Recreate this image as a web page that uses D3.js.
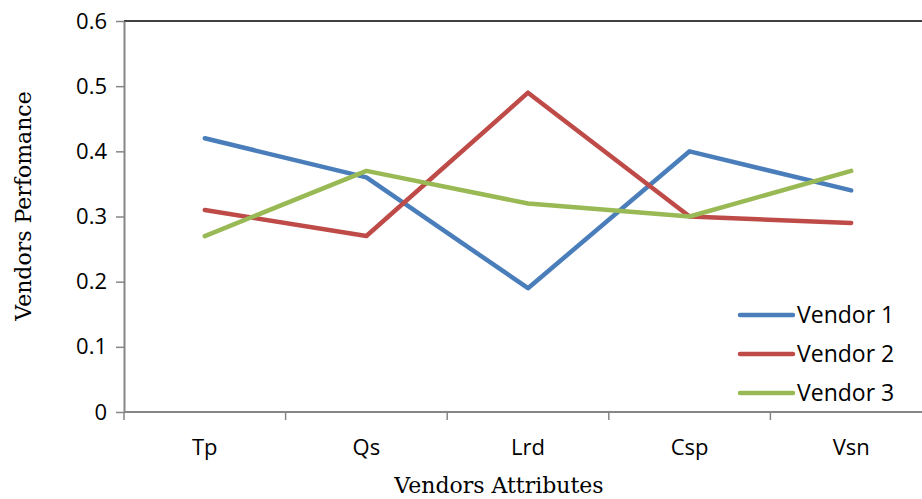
<!DOCTYPE html>
<html>
<head>
<meta charset="utf-8">
<script src="https://cdn.jsdelivr.net/npm/d3@7"></script>
<style>
  body { margin: 0; background: #fff; }
  svg { display: block; }
</style>
</head>
<body>
<svg id="chart"></svg>
<script>
const categories = ['Tp', 'Qs', 'Lrd', 'Csp', 'Vsn'];
const seriesNames = ['Vendor 1', 'Vendor 2', 'Vendor 3'];
const vendor1 = [0.42, 0.36, 0.19, 0.40, 0.34];
const vendor2 = [0.31, 0.27, 0.49, 0.30, 0.29];
const vendor3 = [0.27, 0.37, 0.32, 0.30, 0.37];
const yTicks = [0, 0.1, 0.2, 0.3, 0.4, 0.5, 0.6];
const colors = ['#4a7ebb', '#be4b48', '#98b954'];

const series = [vendor1, vendor2, vendor3].map((vals, i) => ({
  name: seriesNames[i],
  color: colors[i],
  values: vals.map((v, j) => ({cat: categories[j], value: v}))
}));

const width = 922, height = 499;
const margin = {top: 21, left: 124};
const plotW = 808, plotH = 391;
const labelFont = '"Open Sans", Lato, sans-serif';
const titleFont = '"DejaVu Serif", serif';

const svg = d3.select('#chart')
    .attr('width', width)
    .attr('height', height);

const chart = svg.append('g')
    .attr('transform', `translate(${margin.left},${margin.top})`);

const xScale = d3.scaleBand()
    .domain(categories)
    .range([0, plotW]);

const yScale = d3.scaleLinear()
    .domain([0, 0.6])
    .range([plotH, 0]);

// top border line
chart.append('line')
    .attr('x1', 0).attr('x2', width)
    .attr('y1', yScale(0.6)).attr('y2', yScale(0.6))
    .attr('stroke', '#000')
    .attr('stroke-width', 1.5);

// y axis
const yAxisG = chart.append('g')
    .call(d3.axisLeft(yScale).tickValues(yTicks).tickFormat(d => d === 0 ? '0' : d3.format('.1f')(d))
      .tickSize(8).tickSizeOuter(0).tickPadding(9));
yAxisG.select('.domain').attr('stroke', '#868686').attr('stroke-width', 2);
yAxisG.selectAll('.tick line').attr('stroke', '#868686').attr('stroke-width', 1.5);
yAxisG.selectAll('.tick text')
    .style('font-family', labelFont)
    .style('font-size', '22px')
    .attr('fill', '#000');

// x axis with ticks on band boundaries
const boundaries = categories.map(c => xScale(c)).concat([plotW]);
const xAxisG = chart.append('g')
    .attr('transform', `translate(0,${plotH})`);
xAxisG.append('line')
    .attr('x1', 0).attr('x2', plotW)
    .attr('stroke', '#868686').attr('stroke-width', 2);
xAxisG.selectAll('.xtick')
    .data(boundaries)
    .join('line')
    .attr('class', 'xtick')
    .attr('x1', d => d).attr('x2', d => d)
    .attr('y1', 0).attr('y2', 8)
    .attr('stroke', '#868686').attr('stroke-width', 1.5);
xAxisG.selectAll('.xlabel')
    .data(categories)
    .join('text')
    .attr('class', 'xlabel')
    .attr('x', d => xScale(d) + xScale.bandwidth() / 2)
    .attr('y', 43)
    .attr('text-anchor', 'middle')
    .style('font-family', labelFont)
    .style('font-size', '22px')
    .text(d => d);

// lines
const line = d3.line()
    .x(d => xScale(d.cat) + xScale.bandwidth() / 2)
    .y(d => yScale(d.value));

chart.selectAll('.series')
    .data(series)
    .join('path')
    .attr('class', 'series')
    .attr('d', d => line(d.values))
    .attr('fill', 'none')
    .attr('stroke', d => d.color)
    .attr('stroke-width', 4.5)
    .attr('stroke-linejoin', 'round')
    .attr('stroke-linecap', 'round');

// axis titles
svg.append('text')
    .attr('x', 499)
    .attr('y', 493)
    .attr('text-anchor', 'middle')
    .style('font-family', titleFont)
    .style('font-size', '22px')
    .text('Vendors Attributes');

svg.append('text')
    .attr('transform', 'translate(31,206) rotate(-90)')
    .attr('text-anchor', 'middle')
    .style('font-family', titleFont)
    .style('font-size', '22px')
    .text('Vendors Perfomance');

// legend
const legend = svg.append('g')
    .attr('transform', 'translate(740,315)');
const items = legend.selectAll('g')
    .data(series)
    .join('g')
    .attr('transform', (d, i) => `translate(0,${i * 39})`);
items.append('line')
    .attr('x1', 0).attr('x2', 53)
    .attr('stroke', d => d.color)
    .attr('stroke-width', 4.5)
    .attr('stroke-linecap', 'round');
items.append('text')
    .attr('x', 57)
    .attr('dy', '0.35em')
    .style('font-family', labelFont)
    .style('font-size', '23px')
    .text(d => d.name);
</script>
</body>
</html>
